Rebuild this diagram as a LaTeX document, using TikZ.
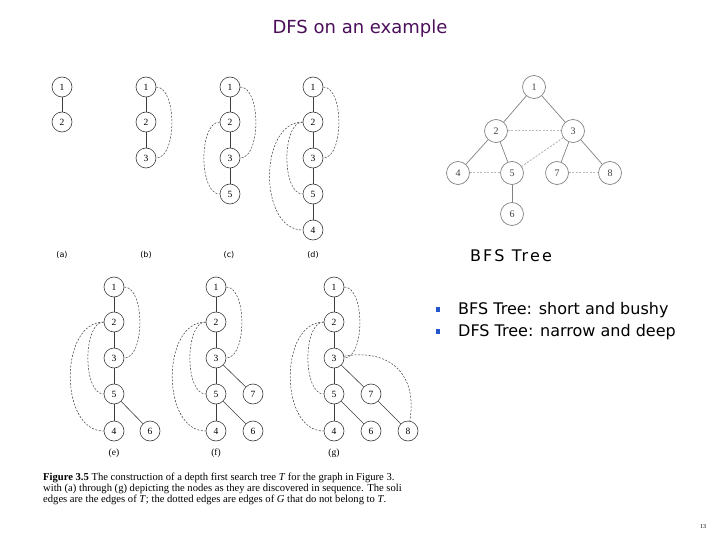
\documentclass[tikz,border=0pt]{standalone}
\usepackage{fontspec}
\setmainfont{Liberation Serif}
\newfontfamily\slidefont{DejaVu Sans}
\newfontfamily\spacedfont[LetterSpace=14]{DejaVu Sans}
\usetikzlibrary{positioning}
\definecolor{titlepurple}{RGB}{75,15,90}
\definecolor{bulletblue}{RGB}{35,85,205}
\definecolor{dfsgray}{RGB}{60,60,60}
\definecolor{bfsgray}{RGB}{130,130,130}
\definecolor{crossgray}{RGB}{185,185,185}
\tikzset{
  dfsnode/.style={circle,draw=dfsgray,line width=0.6pt,minimum size=20pt,inner sep=0pt,font=\fontsize{9.5}{9.5}\selectfont},
  bfsnode/.style={circle,draw=bfsgray,line width=0.7pt,minimum size=23pt,inner sep=0pt,text=black!75,font=\fontsize{10}{10}\selectfont},
  treeedge/.style={draw=dfsgray,line width=0.6pt},
  backedge/.style={draw=dfsgray,line width=0.5pt,dash pattern=on 2pt off 1.5pt},
  bfsedge/.style={draw=bfsgray,line width=0.7pt},
  crossedge/.style={draw=crossgray,line width=1pt,dash pattern=on 2pt off 1.5pt},
  panellabel/.style={font=\slidefont\fontsize{8}{8}\selectfont},
  sublabel/.style={font=\fontsize{9.5}{9.5}\selectfont},
  captionline/.style={anchor=west,inner sep=0pt,font=\fontsize{10.6}{10.6}\selectfont},
  bulletline/.style={anchor=west,inner sep=0pt,font=\slidefont\fontsize{16}{16}\selectfont}
}
\begin{document}
\begin{tikzpicture}[x=1pt,y=1pt]
\useasboundingbox (0,0) rectangle (720,-540);
\node[text=titlepurple,font=\slidefont\fontsize{18}{18}\selectfont](title) at (360,-29) {DFS on an example};

\node[dfsnode](a1) at (62,-87) {1};
\node[dfsnode](a2) at (62,-122) {2};
\draw[treeedge] (a1) -- (a2);

\node[dfsnode](b1) at (146,-87) {1};
\node[dfsnode](b2) at (146,-122) {2};
\node[dfsnode](b3) at (146,-158) {3};
\draw[treeedge] (b1) -- (b2);
\draw[treeedge] (b2) -- (b3);
\draw[backedge] (b1) to[out=0,in=0,looseness=0.75] (b3);

\node[dfsnode](c1) at (230,-87) {1};
\node[dfsnode](c2) at (230,-122) {2};
\node[dfsnode](c3) at (230,-158) {3};
\node[dfsnode](c5) at (230,-194) {5};
\draw[treeedge] (c1) -- (c2);
\draw[treeedge] (c2) -- (c3);
\draw[treeedge] (c3) -- (c5);
\draw[backedge] (c1) to[out=0,in=0,looseness=0.75] (c3);
\draw[backedge] (c2) to[out=180,in=180,looseness=0.75] (c5);

\node[dfsnode](d1) at (313,-87) {1};
\node[dfsnode](d2) at (313,-122) {2};
\node[dfsnode](d3) at (313,-158) {3};
\node[dfsnode](d5) at (313,-194) {5};
\node[dfsnode](d4) at (313,-230) {4};
\draw[treeedge] (d1) -- (d2);
\draw[treeedge] (d2) -- (d3);
\draw[treeedge] (d3) -- (d5);
\draw[treeedge] (d5) -- (d4);
\draw[backedge] (d1) to[out=0,in=0,looseness=0.75] (d3);
\draw[backedge] (d2) to[out=180,in=180,looseness=0.75] (d5);
\draw[backedge] (d2) to[out=180,in=180,looseness=1.05] (d4);

\node[panellabel](la) at (62,-255) {(a)};
\node[panellabel](lb) at (146,-255) {(b)};
\node[panellabel](lc) at (229,-255) {(c)};
\node[panellabel](ld) at (313,-255) {(d)};

\node[dfsnode](e1) at (114,-287) {1};
\node[dfsnode](e2) at (114,-322) {2};
\node[dfsnode](e3) at (114,-358) {3};
\node[dfsnode](e5) at (114,-394) {5};
\node[dfsnode](e4) at (114,-431) {4};
\node[dfsnode](e6) at (150,-431) {6};
\draw[treeedge] (e1) -- (e2);
\draw[treeedge] (e2) -- (e3);
\draw[treeedge] (e3) -- (e5);
\draw[treeedge] (e5) -- (e4);
\draw[treeedge] (e5) -- (e6);
\draw[backedge] (e1) to[out=0,in=0,looseness=0.75] (e3);
\draw[backedge] (e2) to[out=180,in=180,looseness=0.75] (e5);
\draw[backedge] (e2) to[out=180,in=180,looseness=1.05] (e4);

\node[dfsnode](f1) at (216,-287) {1};
\node[dfsnode](f2) at (216,-322) {2};
\node[dfsnode](f3) at (216,-358) {3};
\node[dfsnode](f5) at (216,-394) {5};
\node[dfsnode](f4) at (216,-431) {4};
\node[dfsnode](f7) at (253,-394) {7};
\node[dfsnode](f6) at (253,-431) {6};
\draw[treeedge] (f1) -- (f2);
\draw[treeedge] (f2) -- (f3);
\draw[treeedge] (f3) -- (f5);
\draw[treeedge] (f5) -- (f4);
\draw[treeedge] (f5) -- (f6);
\draw[treeedge] (f3) -- (f7);
\draw[backedge] (f1) to[out=0,in=0,looseness=0.75] (f3);
\draw[backedge] (f2) to[out=180,in=180,looseness=0.75] (f5);
\draw[backedge] (f2) to[out=180,in=180,looseness=1.05] (f4);

\node[dfsnode](g1) at (334,-287) {1};
\node[dfsnode](g2) at (334,-322) {2};
\node[dfsnode](g3) at (334,-358) {3};
\node[dfsnode](g5) at (334,-394) {5};
\node[dfsnode](g4) at (334,-431) {4};
\node[dfsnode](g7) at (371,-394) {7};
\node[dfsnode](g6) at (371,-431) {6};
\node[dfsnode](g8) at (408,-431) {8};
\draw[treeedge] (g1) -- (g2);
\draw[treeedge] (g2) -- (g3);
\draw[treeedge] (g3) -- (g5);
\draw[treeedge] (g5) -- (g4);
\draw[treeedge] (g5) -- (g6);
\draw[treeedge] (g3) -- (g7);
\draw[treeedge] (g7) -- (g8);
\draw[backedge] (g1) to[out=0,in=0,looseness=0.75] (g3);
\draw[backedge] (g2) to[out=180,in=180,looseness=0.75] (g5);
\draw[backedge] (g2) to[out=180,in=180,looseness=1.05] (g4);
\draw[backedge] (g3) to[out=10,in=80,looseness=1.3] (g8);

\node[sublabel](le) at (114,-453) {(e)};
\node[sublabel](lf) at (216,-453) {(f)};
\node[sublabel](lg) at (334,-453) {(g)};

\node[captionline](cap1) at (43,-478) {\textbf{Figure 3.5} The construction of a depth first search tree \textit{T} for the graph in Figure 3.};
\node[captionline](cap2) at (43,-489) {with (a) through (g) depicting the nodes as they are discovered in sequence. The soli};
\node[captionline](cap3) at (43,-500) {edges are the edges of \textit{T}; the dotted edges are edges of \textit{G} that do not belong to \textit{T}.};

\node[bfsnode](t1) at (534,-87) {1};
\node[bfsnode](t2) at (496,-131) {2};
\node[bfsnode](t3) at (573,-131) {3};
\node[bfsnode](t4) at (458,-173) {4};
\node[bfsnode](t5) at (512,-173) {5};
\node[bfsnode](t7) at (557,-173) {7};
\node[bfsnode](t8) at (610,-173) {8};
\node[bfsnode](t6) at (512,-214) {6};
\draw[bfsedge] (t1) -- (t2);
\draw[bfsedge] (t1) -- (t3);
\draw[bfsedge] (t2) -- (t4);
\draw[bfsedge] (t2) -- (t5);
\draw[bfsedge] (t3) -- (t7);
\draw[bfsedge] (t3) -- (t8);
\draw[bfsedge] (t5) -- (t6);
\draw[crossedge] (t2) -- (t3);
\draw[crossedge] (t3) -- (t5);
\draw[crossedge] (t4) -- (t5);
\draw[crossedge] (t7) -- (t8);

\node[font=\spacedfont\fontsize{16}{16}\selectfont](bfslabel) at (511,-256) {BFS Tree};

\node[bulletline](bfsitem) at (436,-310) {\textcolor{bulletblue}{\rule[0.3ex]{4pt}{4.5pt}}\hspace{18pt}BFS Tree: short and bushy};
\node[bulletline](dfsitem) at (436,-332) {\textcolor{bulletblue}{\rule[0.3ex]{4pt}{4.5pt}}\hspace{18pt}DFS Tree: narrow and deep};

\node[font=\fontsize{6}{6}\selectfont](pagenum) at (703,-527) {13};
\end{tikzpicture}
\end{document}
